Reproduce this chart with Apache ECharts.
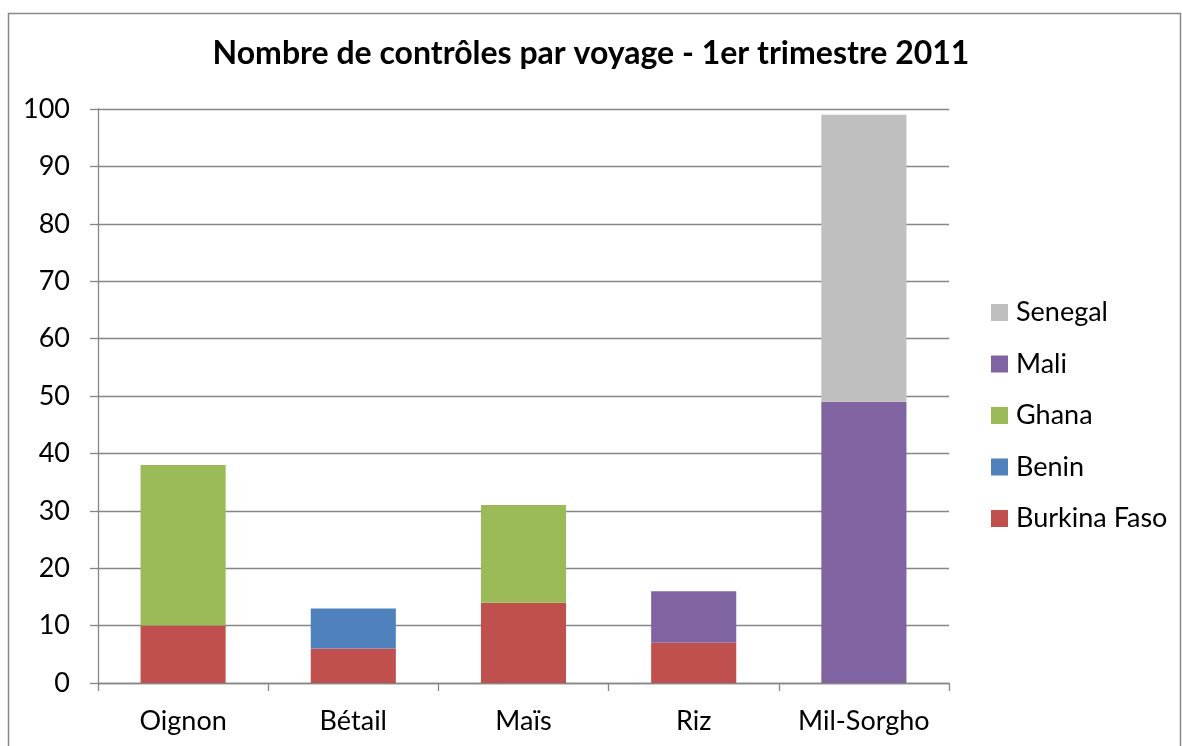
<!DOCTYPE html>
<html>
<head>
<meta charset="utf-8">
<script src="https://cdn.jsdelivr.net/npm/echarts@6/dist/echarts.min.js"></script>
<style>
  html, body { margin: 0; padding: 0; background: #fff; }
  #myChart { width: 1182px; height: 746px; }
</style>
</head>
<body>
<div id="myChart"></div>
<script>
  // produits et pays (nombre de contrôles)
  var categories = ['Oignon', 'Bétail', 'Maïs', 'Riz', 'Mil-Sorgho']
  var burkinaFaso = [10, 6, 14, 7, null]
  var benin = [null, 7, null, null, null]
  var ghana = [28, null, 17, null, null]
  var mali = [null, null, null, 9, 49]
  var senegal = [null, null, null, null, 50]
  var yTicks = { min: 0, max: 100, interval: 10 }

  var font = 'Lato, Calibri, sans-serif'
  var gridColor = '#868686'

  function bar (name, data, color) {
    return {
      name: name,
      type: 'bar',
      stack: 'total',
      barWidth: '50%',
      data: data,
      itemStyle: { color: color }
    }
  }

  var chart = echarts.init(document.getElementById('myChart'))
  chart.setOption({
    animation: false,
    backgroundColor: '#fff',
    textStyle: { fontFamily: font, color: '#000' },
    title: {
      text: 'Nombre de contrôles par voyage - 1er trimestre 2011',
      left: 'center',
      top: 33,
      textStyle: { fontFamily: font, fontSize: 32, fontWeight: 'bold', color: '#000' }
    },
    legend: {
      orient: 'vertical',
      left: 986,
      top: 294,
      itemWidth: 17,
      itemHeight: 17,
      itemGap: 24.5,
      icon: 'rect',
      data: ['Senegal', 'Mali', 'Ghana', 'Benin', 'Burkina Faso'],
      textStyle: { fontFamily: font, fontSize: 27, lineHeight: 27, color: '#000', padding: [0, 0, 0, 3] }
    },
    grid: { left: 98, right: 233, top: 109, bottom: 63, containLabel: false },
    xAxis: {
      type: 'category',
      data: categories,
      axisLine: { lineStyle: { color: gridColor, width: 1.3 } },
      axisTick: { show: true, interval: 0, length: 8, lineStyle: { color: gridColor, width: 1.3 } },
      axisLabel: { interval: 0, hideOverlap: false, fontFamily: font, fontSize: 27, color: '#000', margin: 25 },
      splitLine: { show: false }
    },
    yAxis: {
      type: 'value',
      min: yTicks.min,
      max: yTicks.max,
      interval: yTicks.interval,
      axisLine: { show: true, lineStyle: { color: gridColor, width: 1.3 } },
      axisTick: { show: true, length: 8, lineStyle: { color: gridColor, width: 1.3 } },
      axisLabel: { fontFamily: font, fontSize: 27, color: '#000', margin: 28 },
      splitLine: { show: true, lineStyle: { color: gridColor, width: 1.3 } }
    },
    graphic: [
      {
        type: 'rect',
        silent: true,
        z: -10,
        shape: { x: 8.5, y: 13.5, width: 1172, height: 800 },
        style: { fill: 'none', stroke: '#898989', lineWidth: 1.5 }
      }
    ],
    series: [
      bar('Burkina Faso', burkinaFaso, '#C0504D'),
      bar('Benin', benin, '#4F81BD'),
      bar('Ghana', ghana, '#9BBB59'),
      bar('Mali', mali, '#8064A2'),
      bar('Senegal', senegal, '#BFBFBF')
    ]
  })
</script>
</body>
</html>
